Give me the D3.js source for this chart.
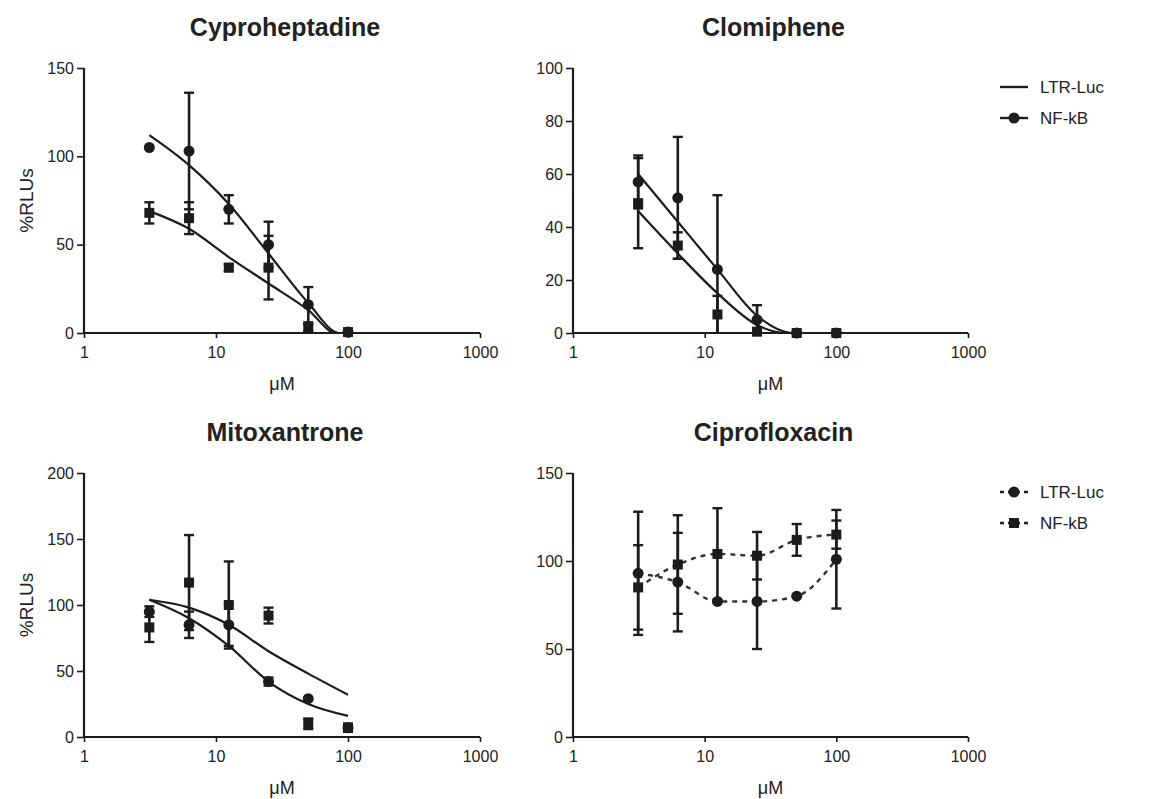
<!DOCTYPE html>
<html>
<head>
<meta charset="utf-8">
<script src="https://cdn.jsdelivr.net/npm/d3@7"></script>
<style>
  body { margin: 0; background: #fff; }
  svg text { font-family: "Liberation Sans", Arial, sans-serif; fill: #222; }
</style>
</head>
<body>
<svg id="chart" width="1157" height="799"></svg>
<script>
// concentrations (uM)
const conc = [3.125, 6.25, 12.5, 25, 50, 100];
const xTicks = [1, 10, 100, 1000];

// Cyproheptadine
const cyproLtr = [105, 103, 70, 50, 16, 0.5];
const cyproLtrErr = [0, 33, 8, 13, 10, 0];
const cyproNfkb = [68, 65, 37, 37, 3, 0.5];
const cyproNfkbErr = [6, 9, 2, 18, 2, 0];
const cyproLtrFit = [[3.125, 112], [6.25, 95], [12.5, 73], [25, 45], [50, 17], [86, 0], [100, 0]];
const cyproNfkbFit = [[3.125, 69], [6.25, 59], [12.5, 43], [25, 28], [50, 13], [81, 0], [100, 0]];

// Clomiphene
const clomLtr = [57, 51, 24, 5, 0, 0];
const clomLtrErr = [10, 23, 28, 5.5, 0, 0];
const clomNfkb = [49, 33, 7, 0.5, 0, 0];
const clomNfkbErr = [17, 5, 7, 0, 0, 0];
const clomLtrFit = [[3.125, 60], [6.25, 42], [12.5, 24], [25, 6.5], [47, 0], [100, 0]];
const clomNfkbFit = [[3.125, 46], [6.25, 30], [12.5, 15], [25, 3], [42, 0], [100, 0]];

// Mitoxantrone
const mitoLtr = [95, 85, 85, 42, 29, 7];
const mitoLtrErr = [4, 10, 16, 3, 0, 3];
const mitoNfkb = [83, 117, 100, 92, 10, 7];
const mitoNfkbErr = [11, 36, 33, 6, 4, 3];
const mitoLtrFit = [[3.125, 104], [6.25, 90], [12.5, 69], [25, 42], [50, 25], [100, 16]];
const mitoNfkbFit = [[3.125, 104], [6.25, 98], [12.5, 85], [25, 65], [50, 48], [100, 32]];

// Ciprofloxacin
const ciproLtr = [93, 88, 77, 77, 80, 101];
const ciproLtrErr = [35, 28, 0, 27, 0, 28];
const ciproNfkb = [85, 98, 104, 103, 112, 115];
const ciproNfkbErr = [24, 28, 26, 13.5, 9, 8];

const ink = "#1c1c1c";
const svg = d3.select("#chart");

const panels = [
  { title: "Cyproheptadine", x0: 84, x1: 480, y0: 333, y1: 68, ymax: 150, yTicks: [0, 50, 100, 150], ylab: true,
    ltr: cyproLtr, ltrErr: cyproLtrErr, nf: cyproNfkb, nfErr: cyproNfkbErr, ltrFit: cyproLtrFit, nfFit: cyproNfkbFit },
  { title: "Clomiphene", x0: 573, x1: 968, y0: 333, y1: 68, ymax: 100, yTicks: [0, 20, 40, 60, 80, 100], ylab: false,
    ltr: clomLtr, ltrErr: clomLtrErr, nf: clomNfkb, nfErr: clomNfkbErr, ltrFit: clomLtrFit, nfFit: clomNfkbFit },
  { title: "Mitoxantrone", x0: 84, x1: 480, y0: 737, y1: 473, ymax: 200, yTicks: [0, 50, 100, 150, 200], ylab: true,
    ltr: mitoLtr, ltrErr: mitoLtrErr, nf: mitoNfkb, nfErr: mitoNfkbErr, ltrFit: mitoLtrFit, nfFit: mitoNfkbFit },
  { title: "Ciprofloxacin", x0: 573, x1: 968, y0: 737, y1: 473, ymax: 150, yTicks: [0, 50, 100, 150], ylab: false,
    ltr: ciproLtr, ltrErr: ciproLtrErr, nf: ciproNfkb, nfErr: ciproNfkbErr, dashed: true }
];

panels.forEach(p => {
  const x = d3.scaleLog().domain([1, 1000]).range([p.x0, p.x1]);
  const y = d3.scaleLinear().domain([0, p.ymax]).range([p.y0, p.y1]);
  const g = svg.append("g");

  // axes
  const yAxis = g.append("g").attr("transform", `translate(${p.x0},0)`)
    .call(d3.axisLeft(y).tickValues(p.yTicks).tickSize(7).tickPadding(3));
  const xAxis = g.append("g").attr("transform", `translate(0,${p.y0})`)
    .call(d3.axisBottom(x).tickValues(xTicks).tickFormat(d3.format("d")).tickSize(5).tickPadding(9));
  [yAxis, xAxis].forEach(a => {
    a.select(".domain").attr("stroke", ink).attr("stroke-width", 2.2);
    a.selectAll(".tick line").attr("stroke", ink).attr("stroke-width", 1.6);
    a.selectAll(".tick text").style("font-size", "16px").attr("fill", "#333");
  });
  xAxis.select(".domain").attr("d", `M${p.x0},0H${p.x1}`);
  yAxis.select(".domain").attr("d", `M0,${p.y0}V${p.y1}`);

  g.append("text").attr("x", (p.x0 + p.x1) / 2 + 3).attr("y", p.y1 - 32)
    .attr("text-anchor", "middle").style("font-size", "25px").style("font-weight", "bold")
    .text(p.title);
  g.append("text").attr("x", (p.x0 + p.x1) / 2).attr("y", p.y0 + 57)
    .attr("text-anchor", "middle").style("font-size", "18px").attr("fill", "#333").text("μM");
  if (p.ylab) {
    g.append("text").attr("transform", `translate(33,${(p.y0 + p.y1) / 2}) rotate(-90)`)
      .attr("text-anchor", "middle").style("font-size", "19px").attr("fill", "#333").text("%RLUs");
  }

  const yc = v => y(Math.max(0, v));
  const line = d3.line().x(d => x(d[0])).y(d => yc(d[1])).curve(d3.curveMonotoneX);

  if (p.dashed) {
    [p.ltr, p.nf].forEach(vals => {
      g.append("path").datum(conc.map((c, i) => [c, vals[i]]))
        .attr("d", line).attr("fill", "none").attr("stroke", "#333")
        .attr("stroke-width", 2.4).attr("stroke-dasharray", "5,5");
    });
  } else {
    [p.ltrFit, p.nfFit].forEach(fit => {
      g.append("path").datum(fit).attr("d", line).attr("fill", "none")
        .attr("stroke", ink).attr("stroke-width", 2.2);
    });
  }

  // error bars
  [[p.ltr, p.ltrErr], [p.nf, p.nfErr]].forEach(([vals, errs]) => {
    const eb = g.append("g");
    conc.forEach((c, i) => {
      if (!errs[i]) return;
      const cx = x(c), top = yc(vals[i] + errs[i]), bot = yc(vals[i] - errs[i]);
      eb.append("line").attr("x1", cx).attr("x2", cx).attr("y1", top).attr("y2", bot)
        .attr("stroke", ink).attr("stroke-width", 2.6);
      [top, bot].forEach(yy => {
        if (vals[i] - errs[i] <= 0 && yy === bot) return;
        eb.append("line").attr("x1", cx - 5).attr("x2", cx + 5).attr("y1", yy).attr("y2", yy)
          .attr("stroke", ink).attr("stroke-width", 2.4);
      });
    });
  });

  // markers: circles for LTR-Luc, squares for NF-kB
  g.append("g").selectAll("circle").data(conc.map((c, i) => [c, p.ltr[i]]))
    .join("circle").attr("cx", d => x(d[0])).attr("cy", d => yc(d[1])).attr("r", 5.5).attr("fill", ink);
  g.append("g").selectAll("rect").data(conc.map((c, i) => [c, p.nf[i]]))
    .join("rect").attr("x", d => x(d[0]) - 5).attr("y", d => yc(d[1]) - 5)
    .attr("width", 10).attr("height", 10).attr("fill", ink);
});

// legends
function legend(y0, dashed) {
  const lg = svg.append("g");
  const rows = [{ name: "LTR-Luc", mark: dashed ? "circle" : "none" }, { name: "NF-kB", mark: dashed ? "square" : "circle" }];
  rows.forEach((r, i) => {
    const yy = y0 + i * 31;
    lg.append("line").attr("x1", 1000).attr("x2", 1028).attr("y1", yy).attr("y2", yy)
      .attr("stroke", ink).attr("stroke-width", 2.4).attr("stroke-dasharray", dashed ? "4,4" : null);
    if (r.mark === "circle") lg.append("circle").attr("cx", 1014).attr("cy", yy).attr("r", 5.5).attr("fill", ink);
    if (r.mark === "square") lg.append("rect").attr("x", 1009).attr("y", yy - 5).attr("width", 10).attr("height", 10).attr("fill", ink);
    lg.append("text").attr("x", 1040).attr("y", yy).attr("dy", "0.35em")
      .style("font-size", "17px").attr("fill", "#333").text(r.name);
  });
}
legend(87, false);
legend(492, true);
</script>
</body>
</html>
